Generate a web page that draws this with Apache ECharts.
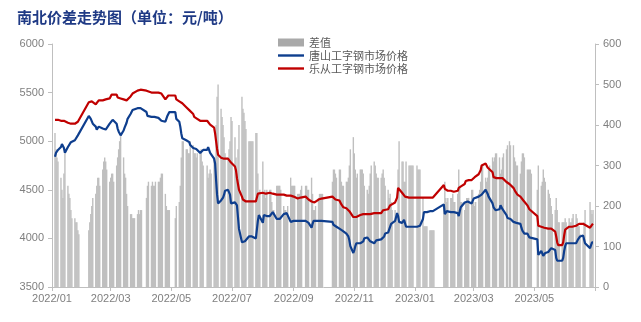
<!DOCTYPE html>
<html>
<head>
<meta charset="utf-8">
<script src="https://cdn.jsdelivr.net/npm/echarts@6/dist/echarts.min.js"></script>
<style>
  html, body { margin: 0; padding: 0; background: #ffffff; }
  #chart { width: 641px; height: 322px; }
</style>
</head>
<body>
<div id="chart"></div>
<script>
// Daily quotes, one row per trading week (Mon..Fri), weeks counted from Monday 2022-01-03.
// null marks a market holiday.
const _ = null;
const weekStart = [2022, 0, 3];

// 乐从工字钢市场价格 (元/吨)
const leCong = [
  [_, 5220, 5220, 5220, 5220], [5210, 5210, 5210, 5210, 5210], [5190, 5180, 5180, 5180, 5180], [5180, 5180, 5190, 5200, 5210],
  [_, _, _, _, _], [5400, 5410, 5410, 5410, 5400], [5380, 5370, 5400, 5420, 5420], [5420, 5420, 5430, 5430, 5430],
  [5440, 5460, 5480, 5500, 5500], [5480, 5450, 5440, 5440, 5440], [5430, 5420, 5420, 5420, 5430], [5460, 5480, 5490, 5500, 5510],
  [5520, 5530, 5530, 5530, 5530], [_, _, 5520, 5510, 5510], [5500, 5500, 5500, 5500, 5500], [5500, 5500, 5500, 5490, 5470],
  [5430, 5430, 5450, 5470, 5490], [_, _, _, 5470, 5430], [5410, 5400, 5400, 5390, 5370], [5350, 5340, 5330, 5320, 5320],
  [5280, 5250, 5240, 5240, 5230], [5210, 5210, 5210, 5210, _], [5210, 5210, 5200, 5170, 5150], [5140, 5080, 5000, 4920, 4860],
  [4830, 4820, 4820, 4820, 4820], [4820, 4820, 4810, 4780, 4760], [4740, 4700, 4620, 4560, 4500], [4430, 4400, 4390, 4380, 4380],
  [4380, 4380, 4380, 4380, 4380], [4380, 4390, 4460, 4470, 4470], [4470, 4470, 4460, 4460, 4470], [4470, 4470, 4460, 4460, 4460],
  [4450, 4450, 4450, 4450, 4450], [4450, 4450, 4450, 4440, 4440], [4440, 4430, 4430, 4430, 4430], [4410, 4410, 4410, 4420, 4430],
  [_, 4430, 4430, 4420, 4400], [4380, 4380, 4370, 4370, 4380], [4400, 4410, 4410, 4410, 4410], [_, _, _, _, _],
  [4430, 4430, 4420, 4400, 4390], [4390, 4380, 4350, 4330, 4320], [4310, 4300, 4290, 4280, 4260], [4220, 4210, 4210, 4220, 4230],
  [4240, 4240, 4240, 4250, 4250], [4250, 4250, 4250, 4250, 4250], [4260, 4260, 4260, 4260, 4260], [4260, 4270, 4290, 4290, 4300],
  [4300, 4310, 4340, 4360, 4360], [4370, 4390, 4420, 4520, 4530], [4470, 4460, 4450, 4430, 4430], [4420, 4420, 4420, 4420, 4420],
  [_, 4420, 4420, 4420, 4420], [4420, 4420, 4420, 4420, 4420], [4420, 4420, 4420, 4420, 4420], [_, _, _, _, _],
  [4550, 4510, 4490, 4490, 4490], [4490, 4490, 4490, 4480, 4480], [4490, 4520, 4530, 4530, 4540], [4560, 4590, 4600, 4600, 4600],
  [4600, 4610, 4620, 4630, 4640], [4660, 4680, 4700, 4750, 4760], [4770, 4770, 4730, 4720, 4720], [4680, 4630, 4620, 4620, 4620],
  [4620, 4620, 4620, 4620, 4620], [4580, 4560, _, 4560, 4550], [4520, 4500, 4480, 4460, 4450], [4430, 4420, 4410, 4390, 4370],
  [4340, 4320, 4300, 4290, 4280], [_, _, _, 4230, 4130], [4120, 4110, 4110, 4110, 4110], [4100, 4100, 4100, 4100, 4090],
  [4070, 4020, 3960, 3930, 3930], [3930, 3960, 4030, 4090, 4110], [4120, 4120, 4120, 4120, 4120], [4130, 4140, 4140, 4150, 4150],
  [4150, 4150, 4140, _, _], [4110, 4110, 4140, 4150, _]
];

// 唐山工字钢市场价格 (元/吨)
const tangShan = [
  [_, 4840, 4880, 4900, 4910], [4940, 4970, 4990, 4930, 4880], [4940, 4950, 4960, 4990, 5010], [5010, 5020, 5030, 5060, 5080],
  [_, _, _, _, _], [5260, 5250, 5230, 5210, 5180], [5150, 5120, 5130, 5150, 5170], [5130, 5110, 5110, 5120, 5140],
  [5180, 5190, 5200, 5220, 5240], [5180, 5130, 5100, 5080, 5060], [5110, 5140, 5150, 5190, 5230], [5280, 5300, 5320, 5330, 5340],
  [5340, 5340, 5350, 5340, 5340], [_, _, 5300, 5260, 5250], [5250, 5240, 5250, 5250, 5240], [5240, 5240, 5230, 5210, 5190],
  [5200, 5230, 5260, 5280, 5300], [_, _, _, 5300, 5230], [5200, 5150, 5080, 5030, 5010], [5010, 5000, 5000, 4990, 4960],
  [4930, 4920, 4910, 4920, 4900], [4880, 4870, 4900, 4910, _], [4910, 4940, 4920, 4880, 4870], [4820, 4770, 4600, 4450, 4360],
  [4390, 4400, 4420, 4450, 4490], [4500, 4480, 4450, 4360, 4350], [4370, 4380, 4340, 4220, 4100], [3960, 3960, 3960, 3970, 3990],
  [4020, 4020, 4020, 4020, 4020], [4000, 4010, 4180, 4240, 4230], [4160, 4240, 4220, 4240, 4230], [4230, 4230, 4250, 4270, 4270],
  [4200, 4200, 4200, 4200, 4210], [4250, 4260, 4260, 4260, 4240], [4170, 4180, 4180, 4180, 4180], [4180, 4180, 4180, 4180, 4180],
  [_, 4180, 4180, 4180, 4160], [4110, 4150, 4180, 4180, 4180], [4180, 4180, 4180, 4180, 4180], [_, _, _, _, _],
  [4170, 4140, 4130, 4120, 4120], [4100, 4090, 4090, 4080, 4070], [4050, 4040, 4020, 3980, 3920], [3850, 3880, 3920, 3950, 3950],
  [3950, 3950, 3950, 3970, 4000], [4010, 4020, 4000, 3970, 3950], [3950, 3960, 3980, 3990, 3990], [3990, 3990, 4000, 4020, 4050],
  [4060, 4090, 4110, 4150, 4170], [4180, 4220, 4260, 4230, 4170], [4160, 4150, 4190, 4170, 4120], [4120, 4120, 4120, 4120, 4120],
  [_, 4120, 4130, 4130, 4130], [4200, 4270, 4270, 4270, 4270], [4280, 4280, 4280, 4280, 4280], [_, _, _, _, _],
  [4350, 4250, 4270, 4280, 4270], [4270, 4270, 4260, 4270, 4270], [4260, 4230, 4280, 4320, 4330], [4370, 4380, 4380, 4380, 4380],
  [4360, 4370, 4410, 4430, 4430], [4430, 4440, 4440, 4450, 4460], [4500, 4510, 4460, 4430, 4420], [4360, 4320, 4300, 4290, 4290],
  [4300, 4340, 4330, 4300, 4290], [4240, 4210, _, 4200, 4200], [4170, 4180, 4170, 4160, 4150], [4150, 4110, 4080, 4060, 4050],
  [4050, 4030, 4010, 4000, 4000], [_, _, _, 3990, 3830], [3870, 3850, 3820, 3840, 3850], [3860, 3870, 3880, 3900, 3910],
  [3880, 3800, 3770, 3770, 3770], [3770, 3800, 3870, 3920, 3950], [3950, 3960, 3960, 3950, 3940], [3950, 3970, 3990, 4000, 4020],
  [4030, 3990, 3950, _, _], [3900, 3920, 3960, 3960, _]
];

// 差值 = 乐从 - 唐山 (元/吨)
const spread = [
  [_, 380, 340, 320, 310], [270, 240, 220, 280, 330], [250, 230, 220, 190, 170], [170, 160, 160, 140, 130],
  [_, _, _, _, _], [140, 160, 180, 200, 220], [230, 250, 270, 270, 250], [290, 310, 320, 310, 290],
  [260, 270, 280, 280, 260], [300, 320, 340, 360, 380], [320, 280, 270, 230, 200], [180, 180, 170, 170, 170],
  [180, 190, 180, 190, 190], [_, _, 220, 250, 260], [250, 260, 250, 250, 260], [260, 260, 270, 280, 280],
  [230, 200, 190, 190, 190], [_, _, _, 170, 200], [210, 250, 320, 360, 360], [340, 340, 330, 330, 360],
  [350, 330, 330, 320, 330], [330, 340, 310, 300, _], [300, 270, 280, 290, 280], [320, 310, 400, 470, 500],
  [440, 420, 400, 370, 330], [320, 340, 360, 420, 410], [370, 320, 280, 340, 400], [470, 440, 430, 410, 390],
  [360, 360, 360, 360, 360], [380, 380, 280, 230, 240], [310, 230, 240, 220, 240], [240, 240, 210, 190, 190],
  [250, 250, 250, 250, 240], [200, 190, 190, 180, 200], [270, 250, 250, 250, 250], [230, 230, 230, 240, 250],
  [_, 250, 250, 240, 240], [270, 230, 190, 190, 200], [220, 230, 230, 230, 230], [_, _, _, _, _],
  [260, 290, 290, 280, 270], [290, 290, 260, 250, 250], [260, 260, 270, 300, 340], [370, 330, 290, 270, 280],
  [290, 290, 290, 280, 250], [240, 230, 250, 280, 300], [310, 300, 280, 270, 270], [270, 280, 290, 270, 250],
  [240, 220, 230, 210, 190], [190, 170, 160, 290, 360], [310, 310, 260, 260, 310], [300, 300, 300, 300, 300],
  [_, 300, 290, 290, 290], [220, 150, 150, 150, 150], [140, 140, 140, 140, 140], [_, _, _, _, _],
  [200, 260, 220, 210, 220], [220, 220, 230, 210, 210], [230, 290, 250, 210, 210], [190, 210, 220, 220, 220],
  [240, 240, 210, 200, 210], [230, 240, 260, 300, 300], [270, 260, 270, 290, 300], [320, 310, 320, 330, 330],
  [320, 280, 290, 320, 330], [340, 350, _, 360, 350], [350, 320, 310, 300, 300], [280, 310, 330, 330, 320],
  [290, 290, 290, 290, 280], [_, _, _, 240, 300], [250, 260, 290, 270, 260], [240, 230, 220, 200, 180],
  [190, 220, 190, 160, 160], [160, 160, 160, 170, 160], [170, 160, 160, 170, 180], [180, 170, 150, 150, 130],
  [120, 160, 190, _, _], [210, 190, 180, 190, _]
];

// Axis range and labelled months
const axisStart = [2022, 0, 1];
const axisEnd = [2023, 6, 1];
const labelMonths = [[2022, 0], [2022, 2], [2022, 4], [2022, 6], [2022, 8], [2022, 10], [2023, 0], [2023, 2], [2023, 4]];
const tickMonths = labelMonths.concat([[2023, 6]]);

function tradingDay(week, day) {
  return new Date(weekStart[0], weekStart[1], weekStart[2] + week * 7 + day).getTime();
}
function toPoints(rows) {
  const pts = [];
  rows.forEach((row, w) => row.forEach((v, d) => {
    if (v !== null) pts.push([tradingDay(w, d), v]);
  }));
  return pts;
}
const monthStamp = m => new Date(m[0], m[1], 1).getTime();

const FONT_CJK = '"Noto Sans CJK SC", "Noto Sans", sans-serif';
const FONT_NUM = '"Liberation Sans", Arial, sans-serif';
const AXIS_GRAY = '#BFBFBF';
const LABEL_GRAY = '#7F7F7F';
const BLUE = '#0E3E8E';
const RED = '#C00000';
const LINE_ICON = 'path://M0,0H26V2.4H0Z';

const chart = echarts.init(document.getElementById('chart'), null, { renderer: 'canvas' });
chart.setOption({
  backgroundColor: '#ffffff',
  animation: false,
  title: {
    text: '南北价差走势图（单位：元/吨）',
    left: 12,
    top: 5,
    textStyle: { fontFamily: FONT_CJK, fontSize: 15, fontWeight: 'bold', color: '#1F3A85' }
  },
  legend: {
    orient: 'vertical',
    left: 273,
    top: 32,
    itemWidth: 26,
    itemHeight: 8,
    itemGap: 2,
    symbolKeepAspect: true,
    textStyle: { fontFamily: FONT_CJK, fontSize: 11, color: '#595959' },
    data: [
      { name: '差值', icon: 'rect', itemStyle: { color: '#A9A9A9' } },
      { name: '唐山工字钢市场价格', icon: LINE_ICON, itemStyle: { color: BLUE } },
      { name: '乐从工字钢市场价格', icon: LINE_ICON, itemStyle: { color: RED } }
    ]
  },
  grid: { left: 52, right: 46, top: 44, bottom: 35, containLabel: false },
  xAxis: {
    // dates as millisecond timestamps on a linear axis; month ticks placed explicitly
    type: 'value',
    min: monthStamp(axisStart),
    max: monthStamp(axisEnd),
    axisLine: { show: true, onZero: false, lineStyle: { color: AXIS_GRAY, width: 1 } },
    axisTick: { show: true, length: 4, lineStyle: { color: AXIS_GRAY }, customValues: tickMonths.map(monthStamp) },
    axisLabel: {
      color: LABEL_GRAY, fontFamily: FONT_NUM, fontSize: 11, margin: 6,
      customValues: labelMonths.map(monthStamp),
      formatter: v => {
        const d = new Date(v);
        return d.getFullYear() + '/' + String(d.getMonth() + 1).padStart(2, '0');
      }
    },
    splitLine: { show: false }
  },
  yAxis: [
    {
      type: 'value', min: 3500, max: 6000, interval: 500, position: 'left',
      axisLine: { show: true, lineStyle: { color: AXIS_GRAY } },
      axisTick: { show: true, length: 4, lineStyle: { color: AXIS_GRAY } },
      axisLabel: { color: LABEL_GRAY, fontFamily: FONT_NUM, fontSize: 11, margin: 8, formatter: v => String(v) },
      splitLine: { show: false }
    },
    {
      type: 'value', min: 0, max: 600, interval: 100, position: 'right',
      axisLine: { show: true, lineStyle: { color: AXIS_GRAY } },
      axisTick: { show: true, length: 4, lineStyle: { color: AXIS_GRAY } },
      axisLabel: { color: LABEL_GRAY, fontFamily: FONT_NUM, fontSize: 11, margin: 8, formatter: v => String(v) },
      splitLine: { show: false }
    }
  ],
  series: [
    {
      name: '差值', type: 'bar', yAxisIndex: 1, barWidth: 1.4,
      itemStyle: { color: '#BFBFBF' },
      data: toPoints(spread), z: 1
    },
    {
      name: '唐山工字钢市场价格', type: 'line', yAxisIndex: 0, symbol: 'none', connectNulls: true,
      lineStyle: { color: BLUE, width: 2.2 }, itemStyle: { color: BLUE },
      data: toPoints(tangShan), z: 3
    },
    {
      name: '乐从工字钢市场价格', type: 'line', yAxisIndex: 0, symbol: 'none', connectNulls: true,
      lineStyle: { color: RED, width: 2.2 }, itemStyle: { color: RED },
      data: toPoints(leCong), z: 3
    }
  ]
});
</script>
</body>
</html>
